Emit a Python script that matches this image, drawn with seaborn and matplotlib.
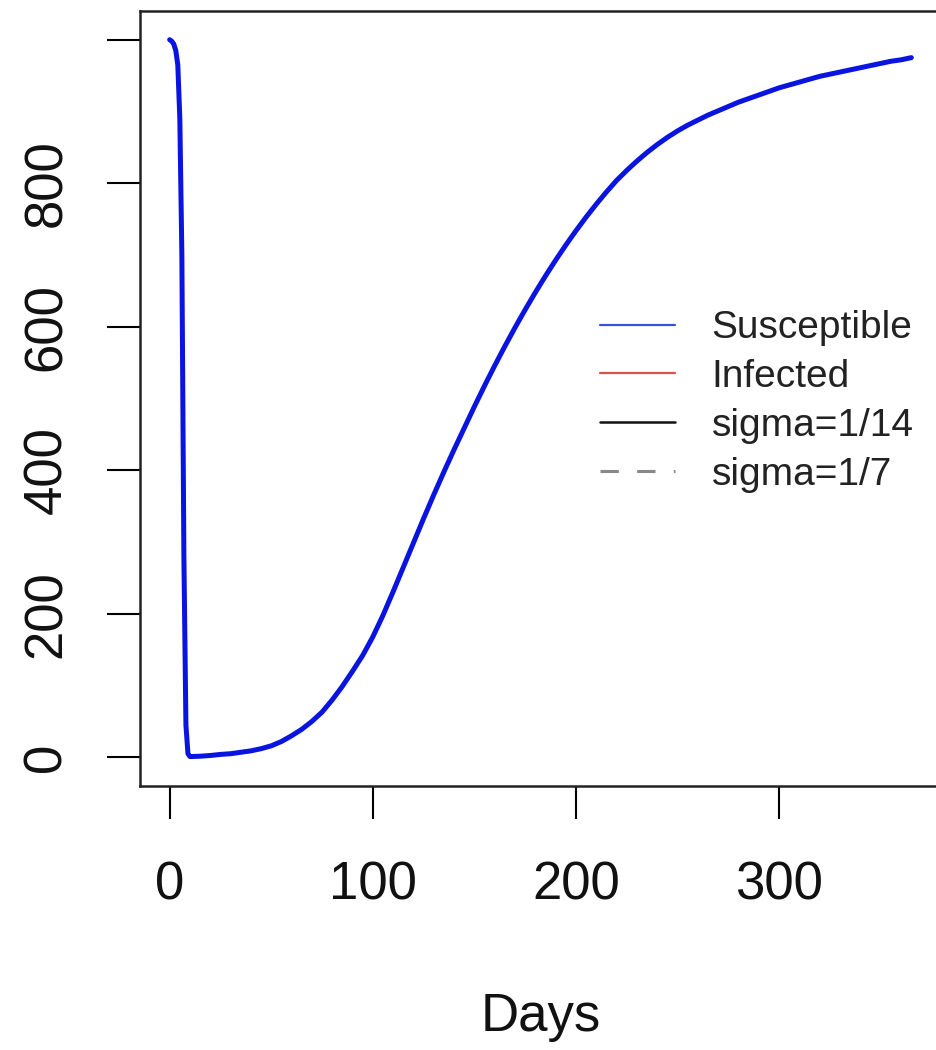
import matplotlib
matplotlib.use("Agg")
import matplotlib.pyplot as plt
from matplotlib.lines import Line2D
import seaborn as sns
import pandas as pd

# ---- data ----
days = [0, 1, 2, 3, 4, 5, 6, 7, 8, 9, 10, 15, 20, 25, 30, 35, 40, 45, 50, 55,
        60, 65, 70, 75, 80, 85, 90, 95, 100, 105, 110, 115, 120, 125, 130, 135,
        140, 145, 150, 155, 160, 165, 170, 175, 180, 185, 190, 195, 200, 205,
        210, 215, 220, 225, 230, 235, 240, 245, 250, 255, 260, 265, 270, 275,
        280, 285, 290, 295, 300, 305, 310, 315, 320, 325, 330, 335, 340, 345,
        350, 355, 360, 365]
susceptible = [1000, 998, 994, 985, 965, 890, 700, 280, 45, 5, 1, 1.5, 2.5, 4,
               5, 7, 9, 12, 16, 22, 30, 39, 50, 63, 80, 99, 120, 142, 168, 198,
               231, 265, 299, 333, 366, 398, 429, 459, 489, 518, 546, 573, 599,
               624, 648, 671, 693, 714, 734, 753, 771, 788, 804, 818, 831, 843,
               854, 864, 873, 881, 888, 895, 901, 907, 913, 918, 923, 928, 933,
               937, 941, 945, 949, 952, 955, 958, 961, 964, 967, 970, 972, 975]
legend_labels = ["Susceptible", "Infected", "sigma=1/14", "sigma=1/7"]
x_ticks = [0, 100, 200, 300]
y_ticks = [0, 200, 400, 600, 800, 1000]
y_tick_labels = ["0", "200", "400", "600", "800", ""]
x_label = "Days"

df = pd.DataFrame({"Days": days, "Susceptible": susceptible})

sns.set_style("white")
plt.rcParams["font.family"] = ["Liberation Sans", "DejaVu Sans"]

W, H = 936, 1050
fig = plt.figure(figsize=(W / 100, H / 100), dpi=100)
ax_left, ax_right, ax_top, ax_bottom = 140, 941, 11, 786
ax = fig.add_axes([ax_left / W, 1 - ax_bottom / H,
                   (ax_right - ax_left) / W, (ax_bottom - ax_top) / H])

sns.lineplot(data=df, x="Days", y="Susceptible", ax=ax, color="#0a14e0",
             linewidth=3.6, legend=False)
ax.lines[0].set_solid_joinstyle("round")
ax.lines[0].set_solid_capstyle("round")

xr = max(days) - min(days)
ax.set_xlim(min(days) - 0.04 * xr, max(days) + 0.04 * xr)
ax.set_ylim(-40, 1040)

ax.set_xticks(x_ticks)
ax.set_xticklabels([str(t) for t in x_ticks])
ax.set_yticks(y_ticks)
ax.set_yticklabels(y_tick_labels)
ax.tick_params(axis="both", which="major", direction="out", length=24,
               width=1.5, color="black", labelsize=38, labelcolor="#111111")
ax.tick_params(axis="x", pad=30)
ax.tick_params(axis="y", pad=25)
ax.tick_params(left=True, bottom=True)
plt.setp(ax.get_yticklabels(), rotation=90, va="center")

ax.set_xlabel(x_label, fontsize=38, color="#111111", labelpad=58)
ax.set_ylabel("")

for s in ax.spines.values():
    s.set_color("#222222")
    s.set_linewidth(1.8)
    s.set_visible(True)

handles = [
    Line2D([], [], color="#3a4fe0", lw=1.6),
    Line2D([], [], color="#e05050", lw=1.6),
    Line2D([], [], color="#111111", lw=1.8),
    Line2D([], [], color="#888888", lw=2.2, linestyle=(0, (6, 6))),
]
ax.legend(handles, legend_labels, frameon=False, fontsize=28,
          loc="center left", bbox_to_anchor=(600 / W, 1 - 401.5 / H),
          bbox_transform=fig.transFigure, borderpad=0, borderaxespad=0,
          handlelength=1.92, handletextpad=0.95, labelspacing=0.33,
          labelcolor="#222222")

fig.savefig("out.png", dpi=100)
